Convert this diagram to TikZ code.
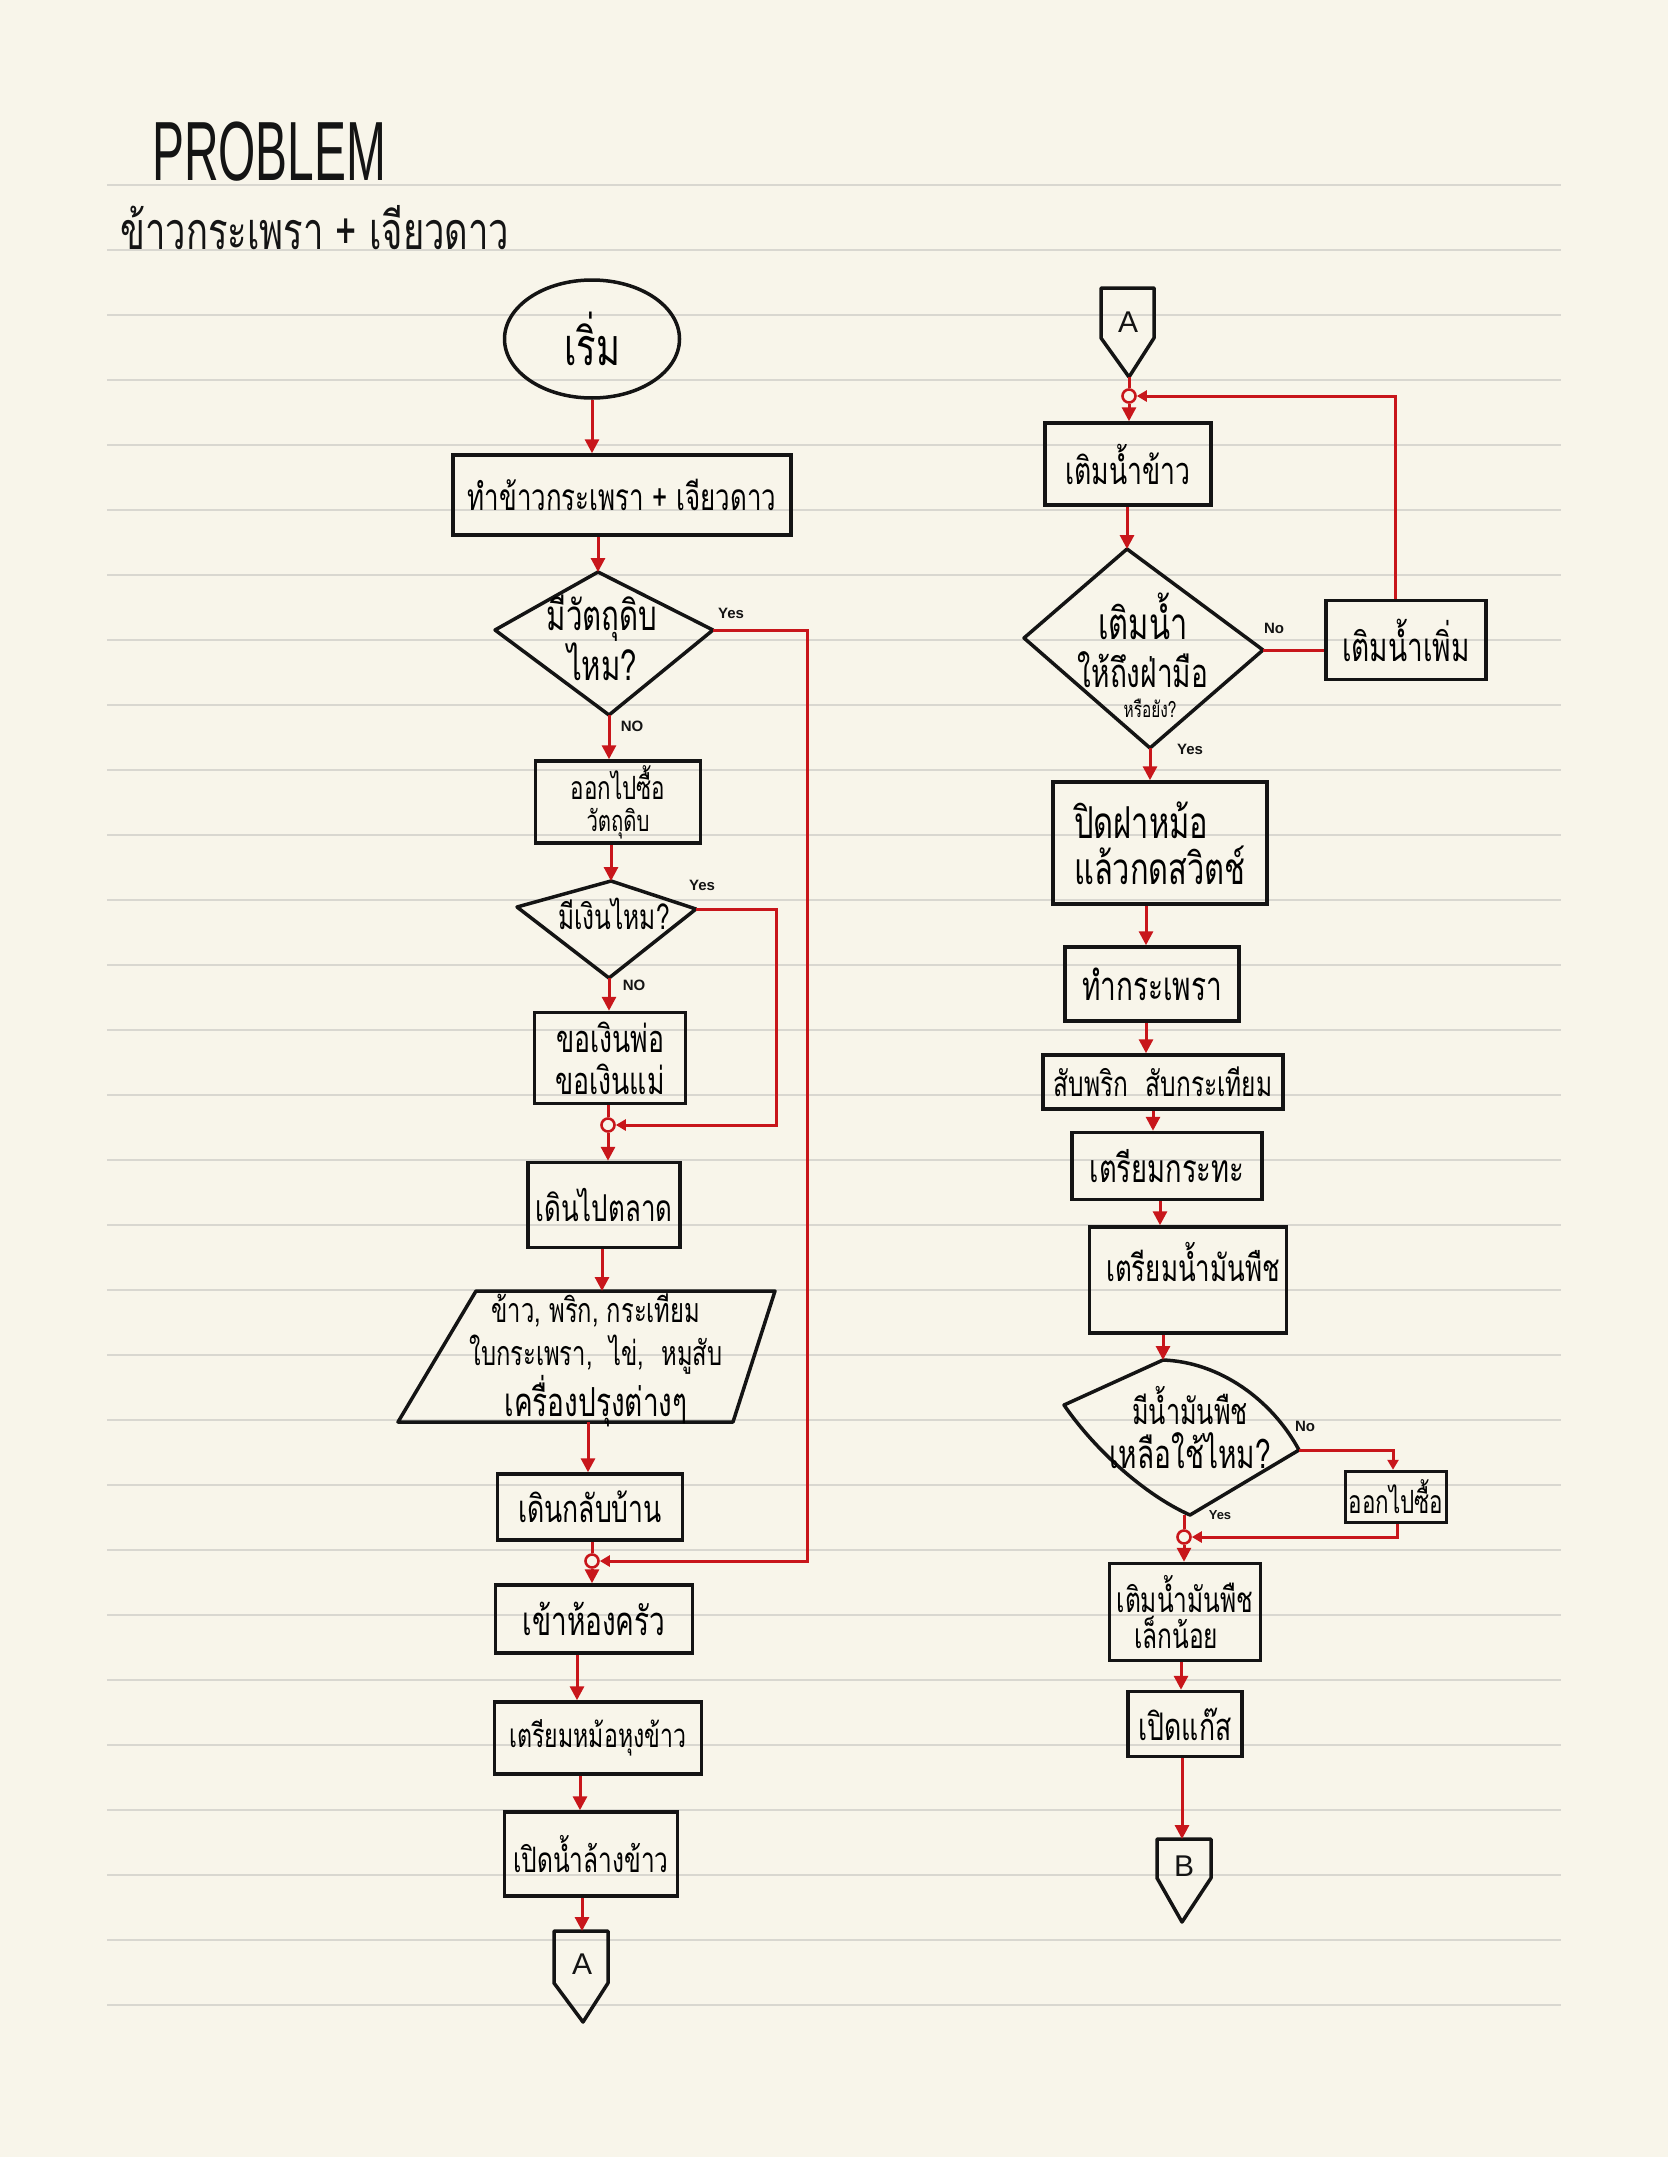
\documentclass[tikz,border=0pt]{standalone}
\usepackage{fontspec}
\setmainfont[Script=Thai, FakeStretch=0.7]{Loma}
\newfontfamily\latinfont{Liberation Sans}
\newfontfamily\titlefont[FakeStretch=0.57]{Liberation Sans}
\usetikzlibrary{arrows.meta,shapes.geometric,calc}

\definecolor{paper}{HTML}{F8F5EA}
\definecolor{rule}{HTML}{D9D7D0}
\definecolor{ink}{HTML}{141414}
\definecolor{redink}{HTML}{C8161B}

\begin{document}
\begin{tikzpicture}[x=1pt,y=-1pt,
  box/.style={draw=ink, line width=3.5pt, rectangle, inner sep=1pt, align=center},
  outline/.style={draw=ink, line width=3.5pt, line join=round},
  conn/.style={draw=redink, line width=3pt},
  arr/.style={conn, -{Triangle[length=14pt,width=14pt]}},
  sarr/.style={conn, -{Triangle[length=10pt,width=11pt]}},
  junction/.style={circle, draw=redink, line width=2.6pt, minimum size=13pt, inner sep=0pt},
  lbl/.style={font=\latinfont\bfseries\fontsize{15}{18}\selectfont, text=ink, inner sep=0pt},
  letter/.style={font=\latinfont\fontsize{30}{34}\selectfont, text=ink, inner sep=0pt}
]
% paper and ruling
\fill[paper] (0,0) rectangle (1668,2157);
\useasboundingbox (0,0) rectangle (1668,2157);
\foreach \k in {0,...,28}
  \draw[rule, line width=2pt] (107,{185+65*\k}) -- (1561,{185+65*\k});

% heading
\node[anchor=west, inner sep=0pt, text=ink, font=\titlefont\fontsize{84}{90}\selectfont] (title) at (152,152) {PROBLEM};
\node[anchor=west, inner sep=0pt, text=ink, font=\fontsize{52}{58}\selectfont] (subtitle) at (120,228) {ข้าวกระเพรา + เจียวดาว};

% ---------------- left column ----------------
\node[draw=ink, line width=3.5pt, ellipse, minimum width=175pt, minimum height=118pt, inner sep=0pt,
      font=\fontsize{52}{56}\selectfont] (start) at (592,339) {เริ่ม};
\node[box, minimum width=338pt, minimum height=80pt, font=\fontsize{37}{42}\selectfont] (b1) at (622,495) {ทำข้าวกระเพรา + เจียวดาว};

\coordinate (d1t) at (598,572); \coordinate (d1r) at (713,630);
\coordinate (d1b) at (609,715); \coordinate (d1l) at (495,630);
\draw[outline] (d1t) -- (d1r) -- (d1b) -- (d1l) -- cycle;
\node[align=center, inner sep=0pt, font=\fontsize{42}{38}\selectfont] (d1) at (602,638) {มีวัตถุดิบ\\ไหม?};

\node[box, minimum width=165pt, minimum height=82pt, font=\fontsize{32}{32}\selectfont] (b2) at (618,802)
  {ออกไปซื้อ\\{\fontsize{29}{30}\selectfont วัตถุดิบ}};

\coordinate (d2t) at (611,881); \coordinate (d2r) at (696,909);
\coordinate (d2b) at (609,978); \coordinate (d2l) at (517,907);
\draw[outline] (d2t) -- (d2r) -- (d2b) -- (d2l) -- cycle;
\node[inner sep=0pt, font=\fontsize{35}{40}\selectfont] (d2) at (614,914) {มีเงินไหม?};

\node[box, minimum width=151pt, minimum height=91pt, font=\fontsize{38}{42}\selectfont] (b3) at (610,1058)
  {ขอเงินพ่อ\\ขอเงินแม่};
\node[junction] (m1) at (608,1125) {};
\node[box, minimum width=152pt, minimum height=85pt, font=\fontsize{37}{42}\selectfont] (b4) at (604,1205) {เดินไปตลาด};

\coordinate (p1tl) at (476,1291); \coordinate (p1tr) at (775,1291);
\coordinate (p1br) at (733,1422); \coordinate (p1bl) at (398,1422);
\coordinate (p1top) at (602,1291); \coordinate (p1bot) at (588,1422);
\draw[outline] (p1tl) -- (p1tr) -- (p1br) -- (p1bl) -- cycle;
\node[align=center, inner sep=0pt, font=\fontsize{34}{43}\selectfont] (p1) at (596,1360)
  {ข้าว, พริก, กระเทียม\\ใบกระเพรา,\enspace ไข่,\enspace หมูสับ\\{\fontsize{40}{43}\selectfont เครื่องปรุงต่างๆ}};

\node[box, minimum width=185pt, minimum height=66pt, font=\fontsize{38}{42}\selectfont] (b5) at (590,1507) {เดินกลับบ้าน};
\node[junction] (m2) at (592,1561) {};
\node[box, minimum width=197pt, minimum height=68pt, font=\fontsize{40}{44}\selectfont] (b6) at (594,1619) {เข้าห้องครัว};
\node[box, minimum width=207pt, minimum height=72pt, font=\fontsize{33}{38}\selectfont] (b7) at (598,1738) {เตรียมหม้อหุงข้าว};
\node[box, minimum width=173pt, minimum height=84pt, font=\fontsize{35}{40}\selectfont] (b8) at (591,1854) {เปิดน้ำล้างข้าว};

\coordinate (cA1top) at (582,1931);
\draw[outline] (554,1931) -- (608,1931) -- (608,1983) -- (583,2022) -- (554,1983) -- cycle;
\node[letter] (cA1) at (582,1964) {A};

% ---------------- right column ----------------
\coordinate (cA2tip) at (1129,377);
\draw[outline] (1101,288) -- (1154,288) -- (1154,338) -- (cA2tip) -- (1101,338) -- cycle;
\node[letter] (cA2) at (1128,322) {A};
\node[junction] (m3) at (1129,396) {};
\node[box, minimum width=166pt, minimum height=82pt, font=\fontsize{38}{42}\selectfont] (r1) at (1128,464) {เติมน้ำข้าว};

\coordinate (d3t) at (1127,549); \coordinate (d3r) at (1263,650);
\coordinate (d3b) at (1150,748); \coordinate (d3l) at (1024,638);
\draw[outline] (d3t) -- (d3r) -- (d3b) -- (d3l) -- cycle;
\node[align=center, inner sep=0pt, font=\fontsize{40}{48}\selectfont] (d3) at (1143,640)
  {{\fontsize{44}{48}\selectfont เติมน้ำ}\\ให้ถึงฝ่ามือ};
\node[inner sep=0pt, font=\fontsize{22}{26}\selectfont] (d3q) at (1150,708) {หรือยัง?};

\node[box, minimum width=160pt, minimum height=79pt, font=\fontsize{40}{44}\selectfont] (r2) at (1406,640) {เติมน้ำเพิ่ม};

\node[box, minimum width=214pt, minimum height=122pt, align=left, font=\fontsize{44}{46}\selectfont] (r3) at (1160,843)
  {ปิดฝาหม้อ\\แล้วกดสวิตช์};
\node[box, minimum width=174pt, minimum height=74pt, font=\fontsize{40}{44}\selectfont] (r4) at (1152,984) {ทำกระเพรา};
\node[box, minimum width=240pt, minimum height=54pt, font=\fontsize{35}{40}\selectfont] (r5) at (1163,1082) {สับพริก\enspace สับกระเทียม};
\node[box, minimum width=190pt, minimum height=67pt, font=\fontsize{39}{44}\selectfont] (r6) at (1167,1166) {เตรียมกระทะ};
\node[box, minimum width=197pt, minimum height=106pt] (r7) at (1188,1280) {};
\node[inner sep=0pt, font=\fontsize{37}{42}\selectfont] (r7t) at (1193,1262) {เตรียมน้ำมันพืช};

\coordinate (d4t) at (1163,1360); \coordinate (d4r) at (1299,1450);
\coordinate (d4b) at (1190,1515); \coordinate (d4l) at (1064,1405);
\draw[outline] (d4t) .. controls (1220,1362) and (1272,1400) .. (d4r) -- (d4b)
  .. controls (1145,1495) and (1095,1450) .. (d4l) -- cycle;
\node[align=center, inner sep=0pt, font=\fontsize{40}{44}\selectfont] (d4) at (1190,1428)
  {{\fontsize{36}{44}\selectfont มีน้ำมันพืช}\\เหลือใช้ไหม?};

\node[box, minimum width=101pt, minimum height=51pt, font=\fontsize{32}{36}\selectfont] (r8) at (1396,1497) {ออกไปซื้อ};
\node[junction] (m4) at (1184,1537) {};
\node[box, minimum width=151pt, minimum height=97pt, align=left, font=\fontsize{35}{36}\selectfont] (r9) at (1185,1612)
  {เติมน้ำมันพืช\\\enspace เล็กน้อย};
\node[box, minimum width=114pt, minimum height=65pt, font=\fontsize{38}{42}\selectfont] (r10) at (1185,1724) {เปิดแก๊ส};

\coordinate (cBtop) at (1182,1839);
\draw[outline] (1157,1839) -- (1211,1839) -- (1211,1878) -- (1182,1922) -- (1157,1878) -- cycle;
\node[letter] (cB) at (1184,1866) {B};

% ---------------- connectors ----------------
\draw[arr] (start.south) -- (start.south |- b1.north);
\draw[arr] (d1t |- b1.south) -- (d1t);
\draw[arr] (d1b) -- (d1b |- b2.north);
\draw[arr] (d2t |- b2.south) -- (d2t);
\draw[arr] (d2b) -- (d2b |- b3.north);
\draw[conn] (m1 |- b3.south) -- (m1.north);
\draw[arr] (m1.south) -- (m1 |- b4.north);
\draw[arr] (p1top |- b4.south) -- (p1top);
\draw[arr] (p1bot) -- (p1bot |- b5.north);
\draw[conn] (m2 |- b5.south) -- (m2.north);
\draw[arr] (m2.south) -- (m2 |- b6.north);
\draw[arr] ([xshift=-17pt]b6.south) -- ([xshift=-17pt]b6.south |- b7.north);
\draw[arr] ([xshift=-18pt]b7.south) -- ([xshift=-18pt]b7.south |- b8.north);
\draw[arr] (cA1top |- b8.south) -- (cA1top);
\draw[sarr] (d1r) -- ++(94,0) |- (m2.east);
\draw[sarr] (d2r) -- ++(80,0) |- (m1.east);

\draw[conn] (cA2tip) -- (m3.north);
\draw[arr] (m3.south) -- (m3 |- r1.north);
\draw[arr] (d3t |- r1.south) -- (d3t);
\draw[arr] (d3b) -- (d3b |- r3.north);
\draw[conn] (d3r) -- (d3r -| r2.west);
\draw[sarr] ([xshift=-11pt]r2.north) |- (m3.east);
\draw[arr] ([xshift=-14pt]r3.south) -- ([xshift=-14pt]r3.south |- r4.north);
\draw[arr] ([xshift=-6pt]r4.south) -- ([xshift=-6pt]r4.south |- r5.north);
\draw[arr] ([xshift=-10pt]r5.south) -- ([xshift=-10pt]r5.south |- r6.north);
\draw[arr] ([xshift=-7pt]r6.south) -- ([xshift=-7pt]r6.south |- r7.north);
\draw[arr] (d4t |- r7.south) -- (d4t);
\draw[sarr] (d4r) -| ([xshift=-3pt]r8.north);
\draw[sarr] ([xshift=1pt]r8.south) |- (m4.east);
\draw[conn] (m4 |- d4b) -- (m4.north);
\draw[arr] (m4.south) -- (m4 |- r9.north);
\draw[arr] ([xshift=-4pt]r9.south) -- ([xshift=-4pt]r9.south |- r10.north);
\draw[arr] (cBtop |- r10.south) -- (cBtop);

% branch labels
\node[lbl] (yes1) at (731,613) {Yes};
\node[lbl] (no1) at (632,726) {NO};
\node[lbl] (yes2) at (702,885) {Yes};
\node[lbl] (no2) at (634,985) {NO};
\node[lbl] (no3) at (1274,628) {No};
\node[lbl] (yes3) at (1190,749) {Yes};
\node[lbl] (no4) at (1305,1426) {No};
\node[lbl, font=\latinfont\bfseries\fontsize{13}{15}\selectfont] (yes4) at (1220,1515) {Yes};
\end{tikzpicture}
\end{document}
